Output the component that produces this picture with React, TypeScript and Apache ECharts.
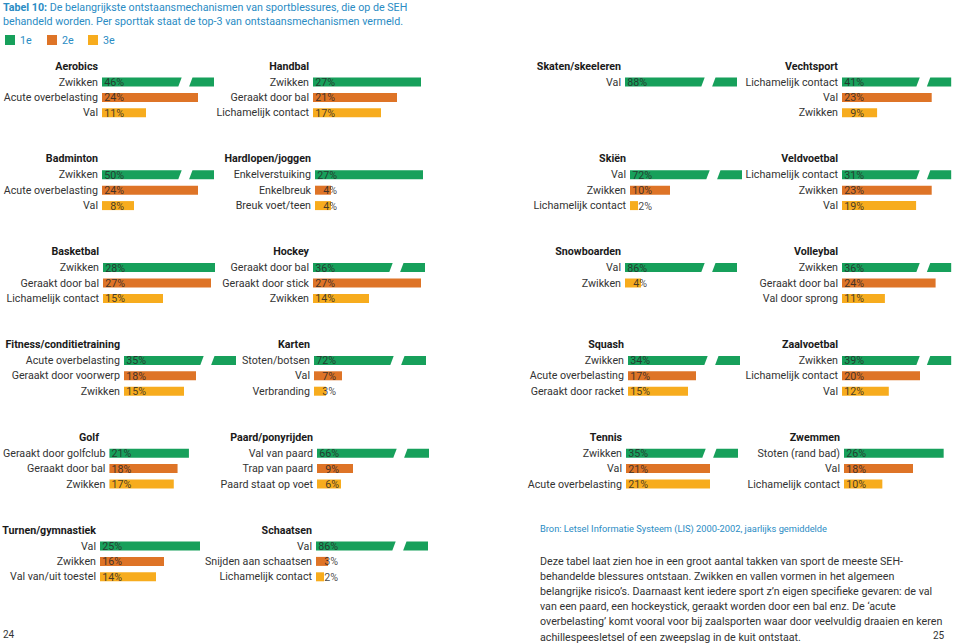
import React, { useEffect, useRef } from "react";
import * as echarts from "echarts";

// ---------- data ----------
const SPORTS: string[] = [
  "Aerobics", "Handbal", "Skaten/skeeleren", "Vechtsport",
  "Badminton", "Hardlopen/joggen", "Skiën", "Veldvoetbal",
  "Basketbal", "Hockey", "Snowboarden", "Volleybal",
  "Fitness/conditietraining", "Karten", "Squash", "Zaalvoetbal",
  "Golf", "Paard/ponyrijden", "Tennis", "Zwemmen",
  "Turnen/gymnastiek", "Schaatsen",
];

const MECHANISMS: string[][] = [
  ["Zwikken", "Acute overbelasting", "Val"],
  ["Zwikken", "Geraakt door bal", "Lichamelijk contact"],
  ["Val"],
  ["Lichamelijk contact", "Val", "Zwikken"],
  ["Zwikken", "Acute overbelasting", "Val"],
  ["Enkelverstuiking", "Enkelbreuk", "Breuk voet/teen"],
  ["Val", "Zwikken", "Lichamelijk contact"],
  ["Lichamelijk contact", "Zwikken", "Val"],
  ["Zwikken", "Geraakt door bal", "Lichamelijk contact"],
  ["Geraakt door bal", "Geraakt door stick", "Zwikken"],
  ["Val", "Zwikken"],
  ["Zwikken", "Geraakt door bal", "Val door sprong"],
  ["Acute overbelasting", "Geraakt door voorwerp", "Zwikken"],
  ["Stoten/botsen", "Val", "Verbranding"],
  ["Zwikken", "Acute overbelasting", "Geraakt door racket"],
  ["Zwikken", "Lichamelijk contact", "Val"],
  ["Geraakt door golfclub", "Geraakt door bal", "Zwikken"],
  ["Val van paard", "Trap van paard", "Paard staat op voet"],
  ["Zwikken", "Val", "Acute overbelasting"],
  ["Stoten (rand bad)", "Val", "Lichamelijk contact"],
  ["Val", "Zwikken", "Val van/uit toestel"],
  ["Val", "Snijden aan schaatsen", "Lichamelijk contact"],
];

const PERCENTAGES: number[][] = [
  [46, 24, 11],
  [27, 21, 17],
  [88],
  [41, 23, 9],
  [50, 24, 8],
  [27, 4, 4],
  [72, 10, 2],
  [31, 23, 19],
  [28, 27, 15],
  [36, 27, 14],
  [86, 4],
  [36, 24, 11],
  [35, 18, 15],
  [72, 7, 3],
  [34, 17, 15],
  [39, 20, 12],
  [21, 18, 17],
  [66, 9, 6],
  [35, 21, 21],
  [26, 18, 10],
  [25, 16, 14],
  [86, 3, 2],
];

// colour class of each bar (1e, 2e, 3e)
const RANKS: number[][] = [
  [1, 2, 3], [1, 2, 3], [1], [1, 2, 3],
  [1, 2, 3], [1, 2, 3], [1, 2, 3], [1, 2, 3],
  [1, 2, 3], [1, 2, 3], [1, 3], [1, 2, 3],
  [1, 2, 3], [1, 2, 3], [1, 2, 3], [1, 2, 3],
  [1, 2, 3], [1, 2, 3], [1, 2, 3], [1, 2, 3],
  [1, 2, 3], [1, 2, 3],
];

const LEGEND_LABELS = ["1e", "2e", "3e"];

const TITLE_BOLD = "Tabel 10:";
const TITLE_LINES = [
  "De belangrijkste ontstaansmechanismen van sportblessures, die op de SEH",
  "behandeld worden. Per sporttak staat de top-3 van ontstaansmechanismen vermeld.",
];
const SOURCE = "Bron: Letsel Informatie Systeem (LIS) 2000-2002, jaarlijks gemiddelde";
const PARAGRAPH = [
  "Deze tabel laat zien hoe in een groot aantal takken van sport de meeste SEH-",
  "behandelde blessures ontstaan. Zwikken en vallen vormen in het algemeen",
  "belangrijke risico’s. Daarnaast kent iedere sport z’n eigen specifieke gevaren: de val",
  "van een paard, een hockeystick, geraakt worden door een bal enz. De ‘acute",
  "overbelasting’ komt vooral voor bij zaalsporten waar door veelvuldig draaien en keren",
  "achillespeesletsel of een zweepslag in de kuit ontstaat.",
];
const PAGE_LEFT = "24";
const PAGE_RIGHT = "25";

// axis scale constants (in % units)
const AXIS_MAX = 30;
const BREAK_ABOVE = 30;
const CAP = 28;
const BREAK_AT = 19.5;
const GAP = 2.7;

// ---------- layout ----------
const COLORS = ["#17a05b", "#de7427", "#f7ac1e"];
const BLUE = "#2a8cc4";
const TEXT = "#333333";
const FONT = "Roboto";
const FS = 10.7;
const PANEL_BAR_X = [
  102, 313, 625, 842,
  102, 315, 630, 842,
  103, 313, 625, 842,
  124, 314, 628, 842,
  103, 317, 626, 844,
  100, 316,
];
const ROW_FIRST = 82;
const ROW_STEP = 92.8;
const BAND = 15.4;
const BAR_H = 9;
const PX_PER_PCT = 4;

export default function App() {
  const ref = useRef<HTMLDivElement>(null);

  useEffect(() => {
    if (!ref.current) return;
    const chart = echarts.init(ref.current, null, { renderer: "svg" });

    const grids: any[] = [];
    const xAxes: any[] = [];
    const yAxes: any[] = [];
    const series: any[] = [];
    const graphics: any[] = [];

    const renderItem = (params: any, api: any) => {
      const cat = api.value(1);
      const real = api.value(2) as number;
      const rank = api.value(3) as number;
      const color = COLORS[rank - 1];
      const p0 = api.coord([0, cat]);
      const top = p0[1] - BAR_H / 2;
      const bot = p0[1] + BAR_H / 2;
      const children: any[] = [];
      if (real > BREAK_ABOVE) {
        const xb = api.coord([BREAK_AT, cat])[0];
        const xg = api.coord([BREAK_AT + GAP, cat])[0];
        const xe = api.coord([CAP, cat])[0];
        const s = 1.7;
        children.push({
          type: "polygon",
          shape: { points: [[p0[0], top], [xb + s, top], [xb - s, bot], [p0[0], bot]] },
          style: { fill: color },
        });
        children.push({
          type: "polygon",
          shape: { points: [[xg + s, top], [xe, top], [xe, bot], [xg - s, bot]] },
          style: { fill: color },
        });
      } else {
        const xe = api.coord([real, cat])[0];
        children.push({
          type: "rect",
          shape: { x: p0[0], y: top, width: xe - p0[0], height: BAR_H },
          style: { fill: color },
        });
      }
      children.push({
        type: "text",
        x: p0[0] + 22,
        y: p0[1] + 0.5,
        style: {
          text: real + "%",
          align: "right",
          textAlign: "right",
          verticalAlign: "middle",
          textVerticalAlign: "middle",
          fill: "rgba(40,40,40,0.85)",
          font: `${FS}px ${FONT}`,
        },
      });
      return { type: "group", children };
    };

    SPORTS.forEach((sport, i) => {
      const row = Math.floor(i / 4);
      const center = ROW_FIRST + ROW_STEP * row;
      const left = PANEL_BAR_X[i];
      grids.push({
        left,
        top: center - BAND / 2,
        width: AXIS_MAX * PX_PER_PCT,
        height: BAND * 3,
        containLabel: false,
      });
      xAxes.push({
        type: "value",
        gridIndex: i,
        min: 0,
        max: AXIS_MAX,
        show: false,
      });
      const cats = MECHANISMS[i].slice();
      while (cats.length < 3) cats.push("");
      yAxes.push({
        type: "category",
        gridIndex: i,
        inverse: true,
        data: cats,
        axisLine: { show: false },
        axisTick: { show: false },
        splitLine: { show: false },
        axisLabel: {
          interval: 0,
          margin: 4,
          color: TEXT,
          fontSize: FS,
          fontFamily: FONT,
        },
      });
      series.push({
        type: "custom",
        name: sport,
        xAxisIndex: i,
        yAxisIndex: i,
        encode: { x: 0, y: 1 },
        renderItem,
        data: PERCENTAGES[i].map((v, k) => [Math.min(v, CAP), k, v, RANKS[i][k]]),
        silent: true,
      });
      graphics.push({
        type: "text",
        x: left - 4,
        y: center - 16,
        style: {
          text: sport,
          align: "right",
          textAlign: "right",
          verticalAlign: "middle",
          textVerticalAlign: "middle",
          fill: "#1a1a1a",
          font: `bold ${FS}px ${FONT}`,
        },
      });
    });

    // header
    graphics.push({
      type: "text",
      x: 3,
      y: 7,
      style: {
        text: `{b|${TITLE_BOLD}} ${TITLE_LINES[0]}`,
        rich: { b: { fontWeight: "bold", fill: BLUE, fontSize: FS, fontFamily: FONT } },
        verticalAlign: "middle",
        textVerticalAlign: "middle",
        fill: BLUE,
        font: `${FS}px ${FONT}`,
      },
    });
    graphics.push({
      type: "text",
      x: 3,
      y: 21,
      style: {
        text: TITLE_LINES[1],
        verticalAlign: "middle",
        textVerticalAlign: "middle",
        fill: BLUE,
        font: `${FS}px ${FONT}`,
      },
    });
    // legend
    const LEG_X = [5, 47, 88];
    LEGEND_LABELS.forEach((lab, k) => {
      graphics.push({
        type: "rect",
        shape: { x: LEG_X[k], y: 35, width: 10, height: 10 },
        style: { fill: COLORS[k] },
      });
      graphics.push({
        type: "text",
        x: LEG_X[k] + 15,
        y: 40,
        style: {
          text: lab,
          verticalAlign: "middle",
          textVerticalAlign: "middle",
          fill: BLUE,
          font: `${FS}px ${FONT}`,
        },
      });
    });
    // source & paragraph
    graphics.push({
      type: "text",
      x: 540,
      y: 528,
      style: {
        text: SOURCE,
        verticalAlign: "middle",
        textVerticalAlign: "middle",
        fill: BLUE,
        font: `9.3px ${FONT}`,
      },
    });
    PARAGRAPH.forEach((line, k) => {
      graphics.push({
        type: "text",
        x: 540,
        y: 561 + k * 15.2,
        style: {
          text: line,
          verticalAlign: "middle",
          textVerticalAlign: "middle",
          fill: TEXT,
          font: `${FS}px ${FONT}`,
        },
      });
    });
    graphics.push({
      type: "text",
      x: 3,
      y: 634,
      style: { text: PAGE_LEFT, verticalAlign: "middle", textVerticalAlign: "middle", fill: TEXT, font: `10px ${FONT}` },
    });
    graphics.push({
      type: "text",
      x: 933,
      y: 635,
      style: { text: PAGE_RIGHT, verticalAlign: "middle", textVerticalAlign: "middle", fill: TEXT, font: `10px ${FONT}` },
    });

    chart.setOption({
      animation: false,
      backgroundColor: "#ffffff",
      textStyle: { fontFamily: FONT },
      grid: grids,
      xAxis: xAxes,
      yAxis: yAxes,
      series,
      graphic: { elements: graphics },
    });

    return () => chart.dispose();
  }, []);

  return (
    <div
      ref={ref}
      style={{ position: "fixed", left: 0, top: 0, width: 959, height: 644 }}
    />
  );
}
